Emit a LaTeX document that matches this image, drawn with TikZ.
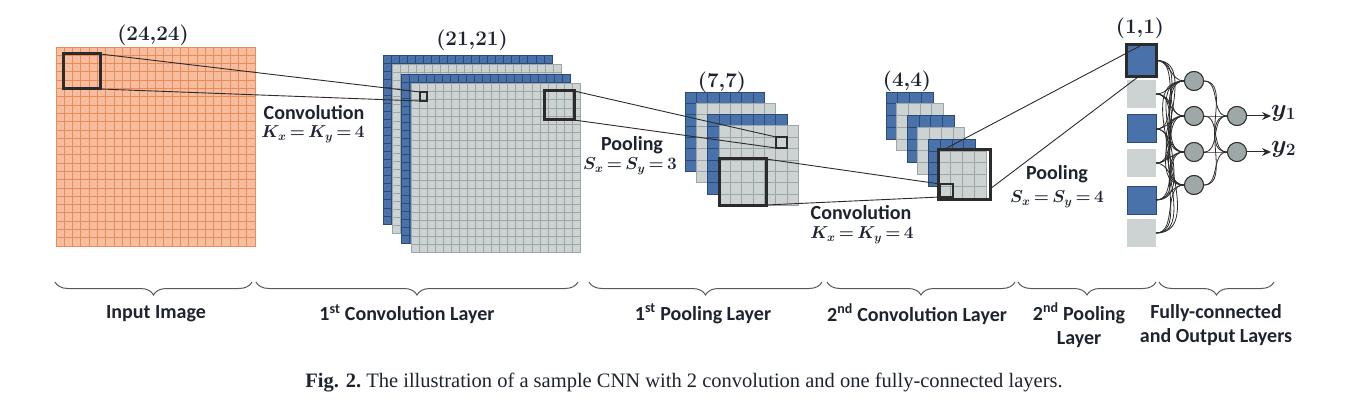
\documentclass[tikz,border=0pt]{standalone}
\usepackage{fontspec}
\newfontfamily\labfont{Carlito}
\newfontfamily\capfont{Liberation Serif}
\usetikzlibrary{arrows.meta,decorations.pathreplacing}
\definecolor{orfill}{HTML}{F6BD9F}
\definecolor{orline}{HTML}{EE8A58}
\definecolor{blfill}{HTML}{4A72AA}
\definecolor{blline}{HTML}{2C4A78}
\definecolor{gyfill}{HTML}{CDD3D3}
\definecolor{gyline}{HTML}{9DA6A6}
\definecolor{nodegy}{HTML}{9FA8A8}
\definecolor{ink}{HTML}{2B2B2B}
\definecolor{txt}{HTML}{1E2330}
% #1 x, #2 y, #3 size, #4 cells, #5 fill, #6 line colour
\newcommand{\glayer}[6]{%
  \fill[#5] (#1,#2) rectangle ++(#3,#3);
  \pgfmathsetmacro\cellsz{#3/#4}
  \foreach \k in {1,...,\numexpr#4-1\relax}{%
    \draw[#6,line width=0.8pt] ({#1+\k*\cellsz},#2) -- ++(0,#3);
    \draw[#6,line width=0.8pt] (#1,{#2+\k*\cellsz}) -- ++(#3,0);
  }
  \draw[#6,line width=0.8pt] (#1,#2) rectangle ++(#3,#3);
}
\newcommand{\tighteq}[1]{$\thickmuskip=3mu\relax #1$}
\begin{document}
\begin{tikzpicture}[x=1pt,y=-1pt,
  lab/.style={font=\labfont\bfseries\fontsize{20}{24}\selectfont, text=txt, inner sep=0pt},
  mlab/.style={font=\fontsize{16.5}{20}\selectfont\boldmath, text=txt, inner sep=0pt},
  dimlab/.style={font=\fontsize{21}{24}\selectfont\boldmath, text=txt, inner sep=0pt},
  kbox/.style={draw=ink, line width=3pt, outer sep=0pt, inner sep=0pt},
  sbox/.style={draw=ink, line width=1.6pt, outer sep=0pt, inner sep=0pt},
  link/.style={draw=ink, line width=0.9pt},
  fcl/.style={draw=ink, line width=0.8pt},
  brc/.style={decorate, decoration={brace, amplitude=13pt}, draw=black!65, line width=1pt},
  fcbox/.style={minimum width=29pt, minimum height=28pt, inner sep=0pt, outer sep=0pt},
  neuron/.style={circle, fill=nodegy, draw=ink, line width=0.9pt, minimum size=19pt, inner sep=0pt},
]
\useasboundingbox (0,0) rectangle (1368,417);

% ---------- input image ----------
\glayer{56}{47}{199}{24}{orfill}{orline}

% ---------- 1st convolution layer ----------
\glayer{383}{55}{169}{21}{blfill}{blline}
\glayer{392.4}{64.6}{169}{21}{gyfill}{gyline}
\glayer{401.8}{74.2}{169}{21}{blfill}{blline}
\glayer{411.2}{83.8}{169}{21}{gyfill}{gyline}

% ---------- 1st pooling layer ----------
\glayer{685}{92}{79.5}{7}{blfill}{blline}
\glayer{696.3}{103.3}{79.5}{7}{gyfill}{gyline}
\glayer{707.6}{114.6}{79.5}{7}{blfill}{blline}
\glayer{718.9}{125.9}{79.5}{7}{gyfill}{gyline}

% ---------- 2nd convolution layer ----------
\glayer{886}{92}{47}{4}{blfill}{blline}
\glayer{896.6}{103.8}{47}{4}{gyfill}{gyline}
\glayer{907.2}{115.6}{47}{4}{blfill}{blline}
\glayer{917.8}{127.4}{47}{4}{gyfill}{gyline}
\glayer{928.4}{139.2}{47}{4}{blfill}{blline}
\glayer{939}{151}{47}{4}{gyfill}{gyline}

% ---------- kernel / pooling windows ----------
\node[kbox, minimum width=37pt, minimum height=35pt] (k1) at (81.5,71.5) {};
\node[sbox, minimum width=7pt, minimum height=9pt] (s1) at (423.5,96.5) {};
\node[kbox, minimum width=30pt, minimum height=29pt] (k2) at (559,105.5) {};
\node[sbox, minimum width=11pt, minimum height=11pt] (s2) at (781.5,142.5) {};
\node[kbox, minimum width=47pt, minimum height=46pt] (k3) at (742.5,182) {};
\node[sbox, minimum width=13pt, minimum height=13pt] (s3) at (946.5,190.5) {};
\node[kbox, minimum width=52pt, minimum height=49pt] (k4) at (964,174.5) {};

% ---------- fully connected column ----------
\node[fcbox, fill=blfill, draw=ink, line width=3pt, minimum width=30pt, minimum height=32pt] (p1) at (1141.5,60.5) {};
\node[fcbox, fill=gyfill] (p2) at (1141.5,94) {};
\node[fcbox, fill=blfill, draw=blline, line width=1pt] (p3) at (1141.5,129) {};
\node[fcbox, fill=gyfill] (p4) at (1141.5,163) {};
\node[fcbox, fill=blfill, draw=blline, line width=1pt] (p5) at (1141.5,200) {};
\node[fcbox, fill=gyfill] (p6) at (1141.5,233) {};

\node[neuron] (h1) at (1194,81) {};
\node[neuron] (h2) at (1194,116) {};
\node[neuron] (h3) at (1194,152) {};
\node[neuron] (h4) at (1194,185) {};
\node[neuron] (o1) at (1237,116) {};
\node[neuron] (o2) at (1237,152) {};

\foreach \i in {1,...,6}{\foreach \j in {1,...,4}{
  \draw[fcl] (p\i.east) to[out=0,in=180] (h\j.west);}}
\foreach \j in {1,...,4}{\foreach \k in {1,2}{
  \draw[fcl] (h\j.east) to[out=0,in=180] (o\k.west);}}
\foreach \n in {h1,h2,h3,h4,o1,o2}{\node[neuron] at (\n) {};}

\node[font=\fontsize{24}{28}\selectfont\boldmath, text=txt, anchor=west, inner sep=0pt] (y1) at (1271,113) {$y_1$};
\node[font=\fontsize{24}{28}\selectfont\boldmath, text=txt, anchor=west, inner sep=0pt] (y2) at (1271,149) {$y_2$};
\draw[ink, line width=1pt, -{Stealth[length=9pt,width=8pt]}] (o1.east) -- (o1.east -| y1.west);
\draw[ink, line width=1pt, -{Stealth[length=9pt,width=8pt]}] (o2.east) -- (o2.east -| y2.west);

% ---------- connecting lines ----------
\coordinate (c1) at (943,150);
\coordinate (c2) at (1140,46);
\coordinate (c3) at (990,189);
\coordinate (c4) at (1138,77);
\draw[link] (k1.north east) -- (s1.north west);
\draw[link] (k1.south east) -- (s1.south west);
\draw[link] (k2.north east) -- (s2.north west);
\draw[link] (k2.south east) -- (s2.south west);
\draw[link] (k3.north east) -- (s3.north west);
\draw[link] (k3.south east) -- (s3.south west);
\draw[link] (c1) -- (c2);
\draw[link] (c3) -- (c4);
% redraw windows on top
\foreach \n/\w/\h in {k1/37/35,k2/30/29,k3/47/46,k4/52/49}{\node[kbox, minimum width=\w pt, minimum height=\h pt] at (\n) {};}
\foreach \n/\w/\h in {s1/7/9,s2/11/11,s3/13/13}{\node[sbox, minimum width=\w pt, minimum height=\h pt] at (\n) {};}
\node[fcbox, draw=ink, line width=3pt, minimum width=30pt, minimum height=32pt] at (p1) {};

% ---------- dimension labels ----------
\node[dimlab] (d1) at (153,35) {$(24{,}24)$};
\node[dimlab] (d2) at (472,40) {$(21{,}21)$};
\node[dimlab] (d3) at (722,82) {$(7{,}7)$};
\node[dimlab] (d4) at (907,81) {$(4{,}4)$};
\node[dimlab] (d5) at (1140,28) {$(1{,}1)$};

% ---------- operation labels ----------
\node[lab] (op1) at (314,113) {Convolution};
\node[mlab] (op1b) at (313,134) {\tighteq{K_x=K_y=4}};
\node[lab] (op2) at (632,145) {Pooling};
\node[mlab] (op2b) at (630,166) {\tighteq{S_x=S_y=3}};
\node[lab] (op3) at (861,213) {Convolution};
\node[mlab] (op3b) at (862,235) {\tighteq{K_x=K_y=4}};
\node[lab] (op4) at (1057,174) {Pooling};
\node[mlab] (op4b) at (1057,199) {\tighteq{S_x=S_y=4}};

% ---------- braces ----------
\draw[brc] (252,282) -- (55,282);
\draw[brc] (578,282) -- (256,282);
\draw[brc] (822,282) -- (589,282);
\draw[brc] (1015,282) -- (827,282);
\draw[brc] (1156,282) -- (1018,282);
\draw[brc] (1274,282) -- (1159,282);

\node[lab] (l1) at (156,314) {Input Image};
\node[lab] (l2) at (407,314) {1\textsuperscript{st} Convolution Layer};
\node[lab] (l3) at (703,314) {1\textsuperscript{st} Pooling Layer};
\node[lab] (l4) at (917,314) {2\textsuperscript{nd} Convolution Layer};
\node[lab, align=center] (l5) at (1079,325) {2\textsuperscript{nd} Pooling\\Layer};
\node[lab, align=center] (l6) at (1216,325) {Fully-connected\\and Output Layers};

% ---------- caption ----------
\node[font=\capfont\fontsize{20.5}{24}\selectfont, text=txt, inner sep=0pt] (cap) at (684,383)
  {\textbf{Fig. 2.}\ The illustration of a sample CNN with 2 convolution and one fully-connected layers.};
\end{tikzpicture}
\end{document}
